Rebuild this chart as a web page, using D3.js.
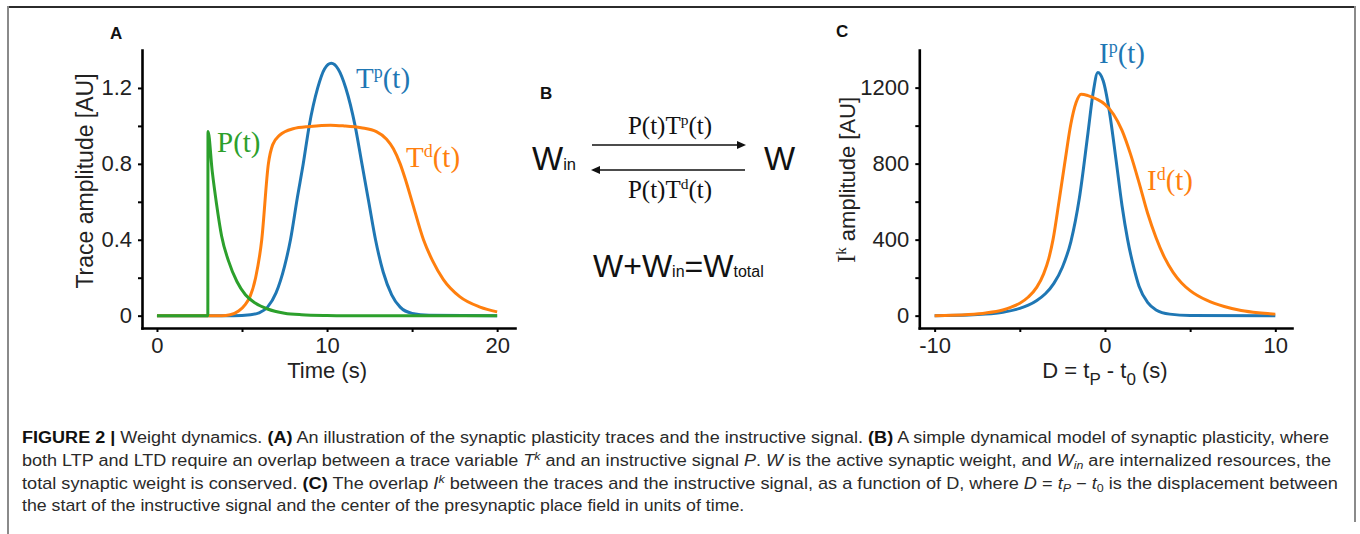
<!DOCTYPE html>
<html>
<head>
<meta charset="utf-8">
<script src="https://cdn.jsdelivr.net/npm/d3@7"></script>
<style>
  body { margin: 0; background: #fff; }
  svg { display: block; }
</style>
</head>
<body>
<svg id="fig" width="1360" height="534"></svg>
<script>
// panel A: traces over time (s), [t, amplitude]
const pSignal = [[0, 0], [2.99, 0], [3, 0.97], [3.25, 0.76], [3.5, 0.59], [3.8, 0.42], [4.2, 0.29],
  [4.7, 0.18], [5.2, 0.11], [5.8, 0.065], [6.5, 0.035], [7.5, 0.013], [8.5, 0.005], [10, 0.001], [11, 0], [20, 0]];
const tpTrace = [[0, 0], [4.5, 0], [5.5, 0.005], [6, 0.015], [6.5, 0.045], [7, 0.12], [7.5, 0.26], [7.85, 0.4],
  [8.25, 0.62], [8.6, 0.8], [8.95, 1.0], [9.45, 1.2], [9.85, 1.3], [10.25, 1.33], [10.65, 1.3], [11.1, 1.2],
  [11.65, 1.0], [12.05, 0.8], [12.45, 0.6], [12.85, 0.4], [13.3, 0.23], [13.8, 0.11], [14.3, 0.045],
  [15, 0.012], [16, 0.002], [20, 0]];
const tdTrace = [[0, 0], [3.8, 0], [4.3, 0.005], [4.8, 0.025], [5.2, 0.06], [5.47, 0.1], [5.8, 0.2],
  [6.16, 0.4], [6.55, 0.8], [6.8, 0.9], [7.2, 0.95], [8, 0.985], [9, 0.997], [10.2, 1.004], [11, 1.0],
  [12, 0.99], [12.9, 0.97], [13.5, 0.93], [13.9, 0.88], [14.3, 0.8], [14.6, 0.72], [15, 0.6], [15.67, 0.4],
  [16.2, 0.29], [16.84, 0.19], [17.8, 0.1], [19, 0.045], [20, 0.02]];

// panel C: overlap vs displacement D, [D, amplitude]
const ipOverlap = [[-10, 0], [-8, 3], [-7, 8], [-6, 18], [-5, 38], [-4.5, 55], [-4, 80], [-3.5, 115],
  [-3, 170], [-2.5, 255], [-2, 390], [-1.5, 620], [-1.0, 960], [-0.7, 1170], [-0.42, 1280],
  [-0.1, 1235], [0.25, 1080], [0.65, 820], [1.0, 580], [1.33, 400], [1.7, 250], [2.0, 155],
  [2.5, 70], [3, 30], [3.8, 8], [5, 1], [10, 0]];
const idOverlap = [[-10, 0], [-9, 2], [-8, 6], [-7, 14], [-6, 30], [-5.5, 45], [-5, 65], [-4.5, 98],
  [-4, 150], [-3.6, 220], [-3.3, 300], [-3.05, 400], [-2.7, 600], [-2.35, 810], [-2.0, 1010],
  [-1.7, 1120], [-1.4, 1165], [-1.0, 1158], [-0.5, 1140], [0, 1112], [0.5, 1060], [1.0, 975],
  [1.5, 850], [2.0, 700], [2.5, 540], [3.0, 410], [3.5, 305], [4.0, 228], [4.5, 172], [5.0, 132],
  [6, 80], [7, 48], [8, 27], [9, 15], [10, 8]];

const xTicksA = [0, 10, 20], xMinorA = [5, 15];
const yTicksA = [0, 0.4, 0.8, 1.2], yMinorA = [0.2, 0.6, 1.0];
const xTicksC = [-10, 0, 10], xMinorC = [-5, 5];
const yTicksC = [0, 400, 800, 1200], yMinorC = [200, 600, 1000];

const caption = [
  [["FIGURE 2 | ", "b"], ["Weight dynamics. "], ["(A)", "b"],
   [" An illustration of the synaptic plasticity traces and the instructive signal. "], ["(B)", "b"],
   [" A simple dynamical model of synaptic plasticity, where"]],
  [["both LTP and LTD require an overlap between a trace variable "], ["T", "i"], ["k", "isup"],
   [" and an instructive signal "], ["P", "i"], [". "], ["W", "i"], [" is the active synaptic weight, and "],
   ["W", "i"], ["in", "isub"], [" are internalized resources, the"]],
  [["total synaptic weight is conserved. "], ["(C)", "b"], [" The overlap "], ["I", "i"], ["k", "isup"],
   [" between the traces and the instructive signal, as a function of D, where "], ["D", "i"], [" = "],
   ["t", "i"], ["P", "isub"], [" \u2212 "], ["t", "i"], ["0", "sub"], [" is the displacement between"]],
  [["the start of the instructive signal and the center of the presynaptic place field in units of time."]]
];
const captionWidths = [1308, 1309, 1316, 723];

const sans = '"Liberation Sans", Arial, Helvetica, sans-serif';
const serif = '"Liberation Serif", "Times New Roman", serif';
const blue = "#1f77b4", orange = "#ff7f0e", green = "#2ca02c";
const ink = "#222";

const svg = d3.select("#fig");

// frame
svg.append("line").attr("x1", 7).attr("x2", 1356).attr("y1", 7).attr("y2", 7)
  .attr("stroke", "#2b2b2b").attr("stroke-width", 2);
svg.append("line").attr("x1", 8).attr("x2", 8).attr("y1", 6).attr("y2", 534)
  .attr("stroke", "#8a8a8a").attr("stroke-width", 2);
svg.append("line").attr("x1", 1355).attr("x2", 1355).attr("y1", 6).attr("y2", 522)
  .attr("stroke", "#8a8a8a").attr("stroke-width", 2);

function drawAxes(g, x, y, xt, xm, yt, ym) {
  const ax = g.append("g").attr("transform", `translate(0,${y.range()[0]})`)
    .call(d3.axisBottom(x).tickValues(xt.concat(xm)).tickFormat(d => xt.includes(d) ? String(d) : "")
      .tickSize(4).tickSizeOuter(0).tickPadding(5));
  const ay = g.append("g").attr("transform", `translate(${x.range()[0]},0)`)
    .call(d3.axisLeft(y).tickValues(yt.concat(ym)).tickFormat(d => yt.includes(d) ? String(d) : "")
      .tickSize(4).tickSizeOuter(0).tickPadding(6));
  [ax, ay].forEach(a => {
    a.select(".domain").attr("stroke", "#000").attr("stroke-width", 2.6).attr("stroke-linecap", "square");
    a.selectAll(".tick line").attr("stroke", "#000").attr("stroke-width", 2);
    a.selectAll(".tick text").attr("font-family", sans).attr("font-size", 22).attr("fill", ink);
  });
}

const curve = (x, y) => d3.line().x(d => x(d[0])).y(d => y(d[1])).curve(d3.curveMonotoneX);

function label(g, x, y, parts, color, size) {
  const t = g.append("text").attr("x", x).attr("y", y).attr("font-family", serif)
    .attr("font-size", size).attr("fill", color);
  parts.forEach(([s, kind]) => {
    const sp = t.append("tspan").text(s);
    if (kind === "sup") sp.attr("font-size", size * 0.62).attr("dy", -size * 0.36);
    if (kind === "back") sp.attr("dy", size * 0.36);
  });
  return t;
}

// ---------- panel A ----------
const gA = svg.append("g");
const xA = d3.scaleLinear().domain([-0.88, 21.05]).range([142, 515]);
const yA = d3.scaleLinear().domain([-0.065, 1.4]).range([328, 50]);
drawAxes(gA, xA, yA, xTicksA, xMinorA, yTicksA, yMinorA);
[[tpTrace, blue], [tdTrace, orange], [pSignal, green]].forEach(([data, c]) => {
  gA.append("path").datum(data).attr("d", curve(xA, yA)).attr("fill", "none")
    .attr("stroke", c).attr("stroke-width", 3).attr("stroke-linejoin", "round");
});
gA.append("text").attr("x", 110).attr("y", 39).attr("font-family", sans).attr("font-weight", "bold")
  .attr("font-size", 17).attr("fill", "#111").text("A");
gA.append("text").attr("transform", "translate(93,181) rotate(-90)").attr("text-anchor", "middle")
  .attr("font-family", sans).attr("font-size", 23).attr("fill", ink).text("Trace amplitude [AU]");
gA.append("text").attr("x", xA(10)).attr("y", 378).attr("text-anchor", "middle")
  .attr("font-family", sans).attr("font-size", 22).attr("fill", ink).text("Time (s)");
label(gA, 356, 88, [["T"], ["p", "sup"], ["(t)", "back"]], blue, 29);
label(gA, 217, 152, [["P(t)"]], green, 29);
label(gA, 406, 167, [["T"], ["d", "sup"], ["(t)", "back"]], orange, 29);

// ---------- panel B ----------
const gB = svg.append("g");
gB.append("text").attr("x", 540).attr("y", 99).attr("font-family", sans).attr("font-weight", "bold")
  .attr("font-size", 17).attr("fill", "#111").text("B");
label(gB, 670, 134, [["P(t)T"], ["p", "sup"], ["(t)", "back"]], "#111", 25).attr("text-anchor", "middle");
label(gB, 670, 198, [["P(t)T"], ["d", "sup"], ["(t)", "back"]], "#111", 25).attr("text-anchor", "middle");
gB.append("line").attr("x1", 592).attr("x2", 744).attr("y1", 145).attr("y2", 145)
  .attr("stroke", "#111").attr("stroke-width", 1.6);
gB.append("path").attr("d", "M737,141 L746,145 L737,149 Z").attr("fill", "#111");
gB.append("line").attr("x1", 593).attr("x2", 745).attr("y1", 170).attr("y2", 170)
  .attr("stroke", "#111").attr("stroke-width", 1.6);
gB.append("path").attr("d", "M600,166 L591,170 L600,174 Z").attr("fill", "#111");

function sub(g, x, y, parts, size) {
  const t = g.append("text").attr("x", x).attr("y", y).attr("font-family", sans)
    .attr("font-size", size).attr("fill", "#111");
  parts.forEach(([s, small]) => {
    t.append("tspan").text(s).attr("font-size", small ? size * 0.5 : size);
  });
  return t;
}
sub(gB, 532, 170, [["W"], ["in", true]], 33);
sub(gB, 764, 170, [["W"]], 33);
sub(gB, 593, 277, [["W+W"], ["in", true], ["=W"], ["total", true]], 32);

// ---------- panel C ----------
const gC = svg.append("g");
const xC = d3.scaleLinear().domain([-10.9, 10.98]).range([919.3, 1292]);
const yC = d3.scaleLinear().domain([-65, 1398]).range([328, 50]);
drawAxes(gC, xC, yC, xTicksC, xMinorC, yTicksC, yMinorC);
[[ipOverlap, blue], [idOverlap, orange]].forEach(([data, c]) => {
  gC.append("path").datum(data).attr("d", curve(xC, yC)).attr("fill", "none")
    .attr("stroke", c).attr("stroke-width", 3).attr("stroke-linejoin", "round");
});
gC.append("text").attr("x", 836).attr("y", 37).attr("font-family", sans).attr("font-weight", "bold")
  .attr("font-size", 17).attr("fill", "#111").text("C");
const yl = gC.append("text").attr("transform", "translate(855,180) rotate(-90)").attr("text-anchor", "middle")
  .attr("font-size", 22).attr("fill", ink);
yl.append("tspan").attr("font-family", serif).attr("font-size", 25).text("I");
yl.append("tspan").attr("font-family", serif).attr("font-size", 15).attr("dy", -9).text("k");
yl.append("tspan").attr("font-family", sans).attr("dy", 9).text(" amplitude [AU]");
const xl = gC.append("text").attr("x", xC(0)).attr("y", 378).attr("text-anchor", "middle")
  .attr("font-family", sans).attr("font-size", 22).attr("fill", ink);
xl.append("tspan").text("D = t");
xl.append("tspan").attr("font-size", 17).attr("dy", 7).text("P");
xl.append("tspan").attr("dy", -7).text(" - t");
xl.append("tspan").attr("font-size", 17).attr("dy", 7).text("0");
xl.append("tspan").attr("dy", -7).text(" (s)");
label(gC, 1099, 63, [["I"], ["p", "sup"], ["(t)", "back"]], blue, 29);
label(gC, 1147, 190, [["I"], ["d", "sup"], ["(t)", "back"]], orange, 29);

// ---------- caption ----------
const capBase = [443, 466, 489, 511];
caption.forEach((parts, i) => {
  const t = svg.append("text").attr("font-family", sans).attr("font-size", 16).attr("fill", "#2a2a2a");
  parts.forEach(([s, kind]) => {
    const sp = t.append("tspan").text(s);
    if (kind === "b") sp.attr("font-weight", "bold").attr("fill", "#111");
    if (kind && kind.startsWith("i")) sp.attr("font-style", "italic");
    if (kind && kind.endsWith("sup")) sp.attr("font-size", 11).attr("baseline-shift", 6);
    if (kind && kind.endsWith("sub")) sp.attr("font-size", 11).attr("baseline-shift", -3);
  });
  const w = t.node().getComputedTextLength();
  t.attr("transform", `translate(22,${capBase[i]}) scale(${captionWidths[i] / w},1)`);
});
</script>
</body>
</html>
